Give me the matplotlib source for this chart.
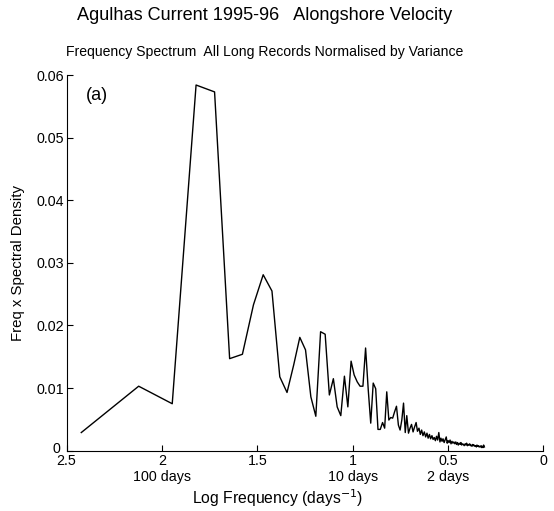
import matplotlib
matplotlib.use("Agg")
import matplotlib.pyplot as plt
import matplotlib.transforms as mtransforms

plt.rcParams['font.family'] = ['Liberation Sans', 'DejaVu Sans']

# log10 of period (days) for each spectral estimate
log_period = [
    2.423, 2.122, 1.946, 1.821, 1.724, 1.645, 1.578, 1.520, 1.469, 1.423,
    1.382, 1.344, 1.309, 1.277, 1.247, 1.219, 1.193, 1.168, 1.144, 1.122,
    1.101, 1.081, 1.062, 1.043, 1.025, 1.008, 0.992, 0.976, 0.961, 0.946,
    0.932, 0.918, 0.905, 0.892, 0.879, 0.867, 0.855, 0.843, 0.832, 0.821,
    0.810, 0.800, 0.790, 0.780, 0.770, 0.760, 0.751, 0.742, 0.733, 0.724,
    0.716, 0.707, 0.699, 0.691, 0.683, 0.675, 0.667, 0.660, 0.652, 0.645,
    0.638, 0.631, 0.624, 0.617, 0.610, 0.604, 0.597, 0.591, 0.584, 0.578,
    0.572, 0.566, 0.560, 0.554, 0.548, 0.542, 0.537, 0.531, 0.526, 0.520,
    0.515, 0.509, 0.504, 0.499, 0.494, 0.489, 0.484, 0.479, 0.474, 0.469,
    0.464, 0.459, 0.455, 0.450, 0.446, 0.441, 0.436, 0.432, 0.428, 0.423,
    0.419, 0.415, 0.410, 0.406, 0.402, 0.398, 0.394, 0.390, 0.386, 0.382,
    0.378, 0.374, 0.370, 0.366, 0.363, 0.359, 0.355, 0.351, 0.348, 0.344,
    0.340, 0.337, 0.333, 0.330, 0.326, 0.323, 0.319, 0.316, 0.313, 0.309,
]

# frequency x spectral density (normalised by variance)
spectral_density = [
    0.0029, 0.0103, 0.0075, 0.0584, 0.0573, 0.0147, 0.0154, 0.0233, 0.0281, 0.0255,
    0.0118, 0.0093, 0.0137, 0.0181, 0.0161, 0.0086, 0.0055, 0.0190, 0.0186, 0.0089,
    0.0115, 0.0070, 0.0056, 0.0119, 0.0070, 0.0143, 0.0121, 0.0110, 0.0103, 0.0103,
    0.0164, 0.0097, 0.0044, 0.0108, 0.0099, 0.0034, 0.0034, 0.0045, 0.0036, 0.0094,
    0.0049, 0.0053, 0.0052, 0.0062, 0.0071, 0.0041, 0.0033, 0.0049, 0.0076, 0.0029,
    0.0056, 0.0028, 0.0036, 0.0042, 0.0030, 0.0038, 0.0045, 0.0031, 0.0036, 0.0026,
    0.0033, 0.0024, 0.0030, 0.0022, 0.0028, 0.0020, 0.0026, 0.0019, 0.0024, 0.0018,
    0.0021, 0.0016, 0.0023, 0.0017, 0.0029, 0.0014, 0.0020, 0.0015, 0.0019, 0.0013,
    0.0017, 0.0022, 0.0012, 0.0016, 0.0013, 0.0017, 0.0011, 0.0015, 0.0012, 0.0014,
    0.0011, 0.0014, 0.0010, 0.0013, 0.0009, 0.0012, 0.0010, 0.0013, 0.0009, 0.0011,
    0.0010, 0.0008, 0.0011, 0.0009, 0.0012, 0.0008, 0.0010, 0.0009, 0.0011, 0.0008,
    0.0009, 0.0007, 0.0010, 0.0008, 0.0009, 0.0007, 0.0008, 0.0006, 0.0009, 0.0007,
    0.0008, 0.0006, 0.0007, 0.0006, 0.0008, 0.0005, 0.0007, 0.0005, 0.0009, 0.0006,
]

x_ticks = [2.5, 2, 1.5, 1, 0.5, 0]
x_tick_labels = ["2.5", "2", "1.5", "1", "0.5", "0"]
y_ticks = [0, 0.01, 0.02, 0.03, 0.04, 0.05, 0.06]
y_tick_labels = ["0", "0.01", "0.02", "0.03", "0.04", "0.05", "0.06"]
period_label_pos = [2, 1, 0.5]
period_labels = ["100 days", "10 days", "2 days"]

W, H = 554, 511
fig = plt.figure(figsize=(W / 100, H / 100), dpi=100)
ax = fig.add_axes([66.6 / W, 1 - 450.7 / H, (543.3 - 66.6) / W, (450.7 - 75) / H])

ax.plot(log_period, spectral_density, color="black", linewidth=1.0)

ax.set_xlim(2.5, 0)
ax.set_ylim(0, 0.06)
ax.set_xticks(x_ticks)
ax.set_xticklabels(x_tick_labels)
ax.set_yticks(y_ticks)
ax.set_yticklabels(y_tick_labels)
ax.tick_params(direction="in", length=4, width=0.8, labelsize=10.3, pad=2)
ax.tick_params(axis="x", pad=2.5)
for s in ["top", "right"]:
    ax.spines[s].set_visible(False)
for s in ["left", "bottom"]:
    ax.spines[s].set_linewidth(0.8)

# nudge the y "0" label slightly up-left so it sits beside the "2.5" label
zero_lab = ax.get_yticklabels()[0]
zero_lab.set_transform(zero_lab.get_transform()
                       + mtransforms.ScaledTranslation(-3 / 100, 3 / 100, fig.dpi_scale_trans))

trans = mtransforms.blended_transform_factory(ax.transData, fig.transFigure)
for p, lab in zip(period_label_pos, period_labels):
    ax.text(p, 1 - 477 / H, lab, transform=trans, ha="center", va="center", fontsize=10.3)

ax.text(2.4, 0.0568, "(a)", fontsize=13, ha="left", va="center")

fig.text(192 / W, 1 - 498 / H, "Log Frequency (days$^{-1}$)", ha="left", va="center", fontsize=11.3)
fig.text(18 / W, 1 - 263 / H, "Freq x Spectral Density", rotation=90, ha="center", va="center", fontsize=10.8)
fig.text(265 / W, 1 - 15 / H, "Agulhas Current 1995-96   Alongshore Velocity", ha="center", va="center", fontsize=13.1)
fig.text(265 / W, 1 - 52 / H, "Frequency Spectrum  All Long Records Normalised by Variance", ha="center", va="center", fontsize=10.1)

fig.savefig("out.png", dpi=100)
